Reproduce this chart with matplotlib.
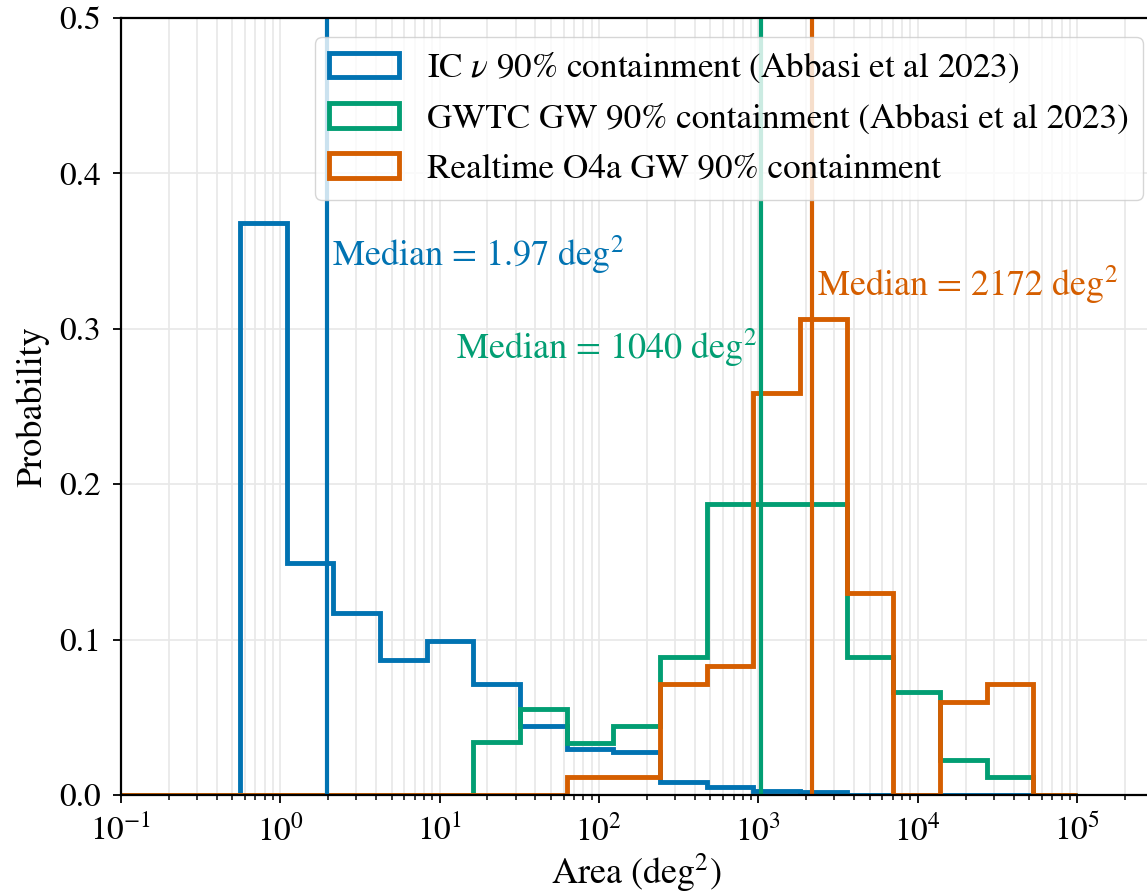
import numpy as np
import matplotlib
matplotlib.use('Agg')
import matplotlib.pyplot as plt

plt.rcParams['font.family'] = ['STIXGeneral', 'Liberation Serif', 'DejaVu Serif']
plt.rcParams['mathtext.fontset'] = 'stix'
plt.rcParams['font.size'] = 26

# bin edges in deg^2 (outer edges 0.1 and 1e5 carry zero counts)
edges = [0.1, 0.5603, 1.099, 2.157, 4.231, 8.302, 16.29, 31.96, 62.70, 123.0,
         241.4, 473.6, 929.2, 1823, 3577, 7018, 13770, 27020, 53010, 1e5]

# probability per bin
ic_prob = [0, 0.368, 0.149, 0.117, 0.087, 0.099, 0.0716, 0.0447, 0.0297, 0.0275,
           0.0086, 0.005, 0.0028, 0.0022, 0, 0, 0, 0, 0]
gwtc_prob = [0, 0, 0, 0, 0, 0, 0.0338, 0.0555, 0.0333, 0.0447,
             0.0888, 0.187, 0.187, 0.187, 0.0886, 0.0662, 0.0226, 0.0116, 0]
o4a_prob = [0, 0, 0, 0, 0, 0, 0, 0, 0.0118, 0.0118,
            0.0716, 0.083, 0.259, 0.306, 0.130, 0, 0.0596, 0.0716, 0]

medians = [1.97, 1040, 2172]
labels = [r'IC $\nu$ 90% containment (Abbasi et al 2023)',
          'GWTC GW 90% containment (Abbasi et al 2023)',
          'Realtime O4a GW 90% containment']
colors = ['#0173b2', '#029e73', '#d55e00']

fig = plt.figure(figsize=(11.47, 8.94), dpi=100)
ax = fig.add_axes([120.7 / 1147, 99 / 894, (1152 - 120.7) / 1147, 777 / 894])

centres = np.sqrt(np.array(edges[:-1]) * np.array(edges[1:]))
for probs, lab, col in zip([ic_prob, gwtc_prob, o4a_prob], labels, colors):
    ax.hist(centres, bins=edges, weights=probs, histtype='step',
            color=col, linewidth=3.5, label=lab)

for m, col in zip(medians, colors):
    ax.axvline(m, color=col, linewidth=3)

ax.text(medians[0] * 1.08, 0.3406, 'Median = 1.97 deg$^2$', color=colors[0],
        ha='left', va='baseline')
ax.text(medians[1] * 0.94, 0.2806, 'Median = 1040 deg$^2$', color=colors[1],
        ha='right', va='baseline')
ax.text(medians[2] * 1.08, 0.321, 'Median = 2172 deg$^2$', color=colors[2],
        ha='left', va='baseline')

ax.set_xscale('log')
ax.set_xlim(0.1, 10 ** (-1 + (1152 - 120.7) / 159.4))
ax.set_ylim(0, 0.5)
ax.set_yticks([0, 0.1, 0.2, 0.3, 0.4, 0.5])
ax.set_yticklabels(['0.0', '0.1', '0.2', '0.3', '0.4', '0.5'])
ax.grid(which='both', axis='x', color='#e8e8e8', linewidth=1.2)
ax.grid(which='major', axis='y', color='#e8e8e8', linewidth=1.2)
ax.set_axisbelow(True)
ax.tick_params(which='major', length=6, width=1.3, labelsize=24, pad=8)
ax.tick_params(which='minor', length=3.5, width=1.1)
for s in ax.spines.values():
    s.set_linewidth(1.6)

ax.set_xlabel('Area (deg$^2$)', labelpad=3)
ax.set_ylabel('Probability', labelpad=7)

ax.legend(loc='upper right', bbox_to_anchor=(1143 / 1147, 1 - 37 / 894),
          bbox_transform=fig.transFigure, borderaxespad=0, fontsize=25.3)

fig.savefig('out.png', dpi=100)
